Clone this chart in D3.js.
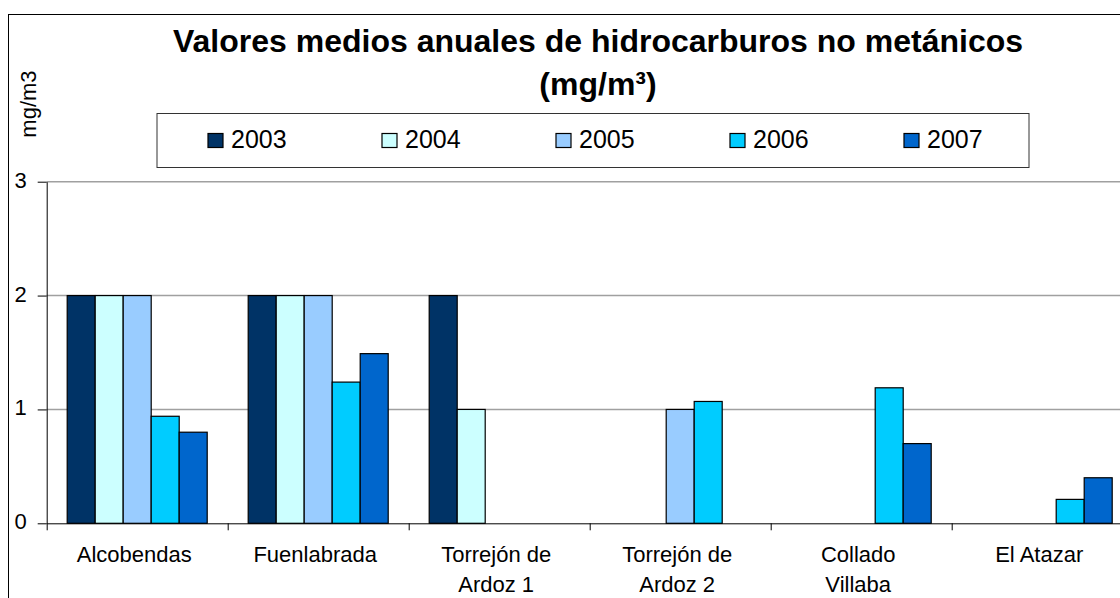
<!DOCTYPE html>
<html lang="es">
<head>
<meta charset="UTF-8">
<title>Valores medios anuales de hidrocarburos no metánicos</title>
<script src="https://d3js.org/d3.v7.min.js"></script>
<style>
    body { margin: 0; background: #fff; }
    svg { display: block; font-family: "Liberation Sans", Arial, sans-serif; }
    .grid line { stroke: #a0a0a0; stroke-width: 1.5; }
    .axis path, .axis line { stroke: #000; }
    .axis text { font-size: 22px; fill: #000; }
</style>
</head>
<body>
<svg id="chart" width="1120" height="598"></svg>
<script>
    const stations = [
        ["Alcobendas"],
        ["Fuenlabrada"],
        ["Torrejón de", "Ardoz 1"],
        ["Torrejón de", "Ardoz 2"],
        ["Collado", "Villaba"],
        ["El Atazar"]
    ];
    const years = ["2003", "2004", "2005", "2006", "2007"];
    const colors = ["#003366", "#ccffff", "#99ccff", "#00ccff", "#0066cc"];
    // one array per year, one value per station (null = no data)
    const v2003 = [2, 2, 2, null, null, null];
    const v2004 = [2, 2, 1, null, null, null];
    const v2005 = [2, 2, null, 1, null, null];
    const v2006 = [0.94, 1.24, null, 1.07, 1.19, 0.21];
    const v2007 = [0.80, 1.49, null, null, 0.70, 0.40];
    const yTicks = [0, 1, 2, 3];

    const series = [v2003, v2004, v2005, v2006, v2007];

    const svg = d3.select("#chart");
    const plotLeft = 46.7, catW = 181, plotBottom = 523.3, plotTop = 181.7;

    // outer frame (runs off the right and bottom edges like the original)
    svg.append("rect")
        .attr("x", 8.5).attr("y", 14.5)
        .attr("width", 1200).attr("height", 700)
        .attr("fill", "none").attr("stroke", "#000");

    const x = d3.scaleBand()
        .domain(d3.range(stations.length))
        .range([plotLeft, plotLeft + catW * stations.length]);
    const xEdge = d3.scaleLinear().domain([0, stations.length]).range([plotLeft, plotLeft + catW * stations.length]);
    const x1 = d3.scaleBand().domain(years).range([20.5, 160.5]);
    const y = d3.scaleLinear().domain([0, 3]).range([plotBottom, plotTop]);

    // gridlines
    svg.append("g").attr("class", "grid")
        .selectAll("line")
        .data(yTicks.filter(d => d > 0))
        .join("line")
        .attr("x1", plotLeft).attr("x2", 1120)
        .attr("y1", d => y(d)).attr("y2", d => y(d));

    // bars
    const groups = svg.append("g").selectAll("g")
        .data(series)
        .join("g")
        .attr("fill", (d, i) => colors[i]);

    groups.selectAll("rect")
        .data((d, i) => d.map((v, j) => ({ v, j, year: years[i] })).filter(e => e.v != null))
        .join("rect")
        .attr("x", d => x(d.j) + x1(d.year))
        .attr("y", d => y(d.v))
        .attr("width", x1.bandwidth())
        .attr("height", d => y(0) - y(d.v))
        .attr("stroke", "#000")
        .attr("stroke-width", 1.2);

    // y axis
    svg.append("g").attr("class", "axis")
        .attr("transform", `translate(${plotLeft},0)`)
        .call(d3.axisLeft(y).tickValues(yTicks).tickFormat(d3.format("d")).tickSize(9).tickPadding(11).tickSizeOuter(0))
        .selectAll("text").attr("dy", "0.25em");

    // x axis with ticks at category boundaries
    svg.append("g").attr("class", "axis")
        .attr("transform", `translate(0,${plotBottom})`)
        .call(d3.axisBottom(xEdge).tickValues(d3.range(stations.length + 1)).tickFormat("").tickSize(7).tickSizeOuter(0));

    // category labels
    svg.append("g")
        .selectAll("text")
        .data(stations)
        .join("text")
        .attr("x", (d, i) => x(i) + x.bandwidth() / 2 - 3)
        .attr("y", 562)
        .attr("text-anchor", "middle")
        .attr("font-size", 22)
        .selectAll("tspan")
        .data(d => d)
        .join("tspan")
        .attr("x", function () { return this.parentNode.getAttribute("x"); })
        .attr("dy", (d, i) => i === 0 ? 0 : 29.5)
        .text(d => d);

    // title
    svg.append("text")
        .attr("x", 598).attr("y", 52.3)
        .attr("text-anchor", "middle")
        .attr("font-size", 32).attr("font-weight", "bold")
        .text("Valores medios anuales de hidrocarburos no metánicos");
    svg.append("text")
        .attr("x", 598).attr("y", 95)
        .attr("text-anchor", "middle")
        .attr("font-size", 32).attr("font-weight", "bold")
        .text("(mg/m³)");

    // y axis label
    svg.append("text")
        .attr("transform", "translate(36,104) rotate(-90)")
        .attr("text-anchor", "middle")
        .attr("font-size", 22)
        .text("mg/m3");

    // legend
    const legend = svg.append("g");
    legend.append("rect")
        .attr("x", 157).attr("y", 113.5)
        .attr("width", 872).attr("height", 54)
        .attr("fill", "#fff").attr("stroke", "#333");
    const items = legend.selectAll("g")
        .data(years)
        .join("g")
        .attr("transform", (d, i) => `translate(${208 + i * 174},0)`);
    items.append("rect")
        .attr("x", 0).attr("y", 133.5)
        .attr("width", 15).attr("height", 14)
        .attr("fill", (d, i) => colors[i])
        .attr("stroke", "#000").attr("stroke-width", 1.2);
    items.append("text")
        .attr("x", 23).attr("y", 148)
        .attr("font-size", 25)
        .text(d => d);
</script>
</body>
</html>
